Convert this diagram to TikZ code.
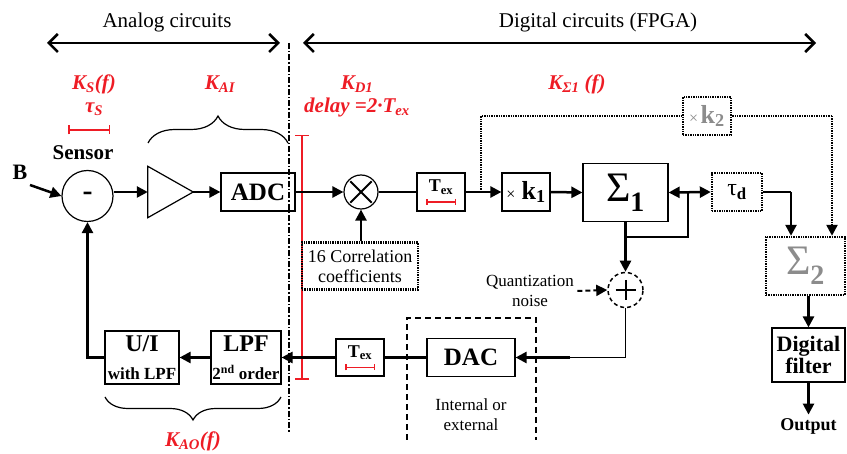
\documentclass[tikz,border=0pt]{standalone}
\usepackage{fontspec}
\setmainfont{Liberation Serif}
\usepackage{xcolor}
\usepackage{tikz}
\usetikzlibrary{positioning, arrows.meta, calc, decorations.pathreplacing}
\definecolor{ink}{HTML}{000000}
\definecolor{markred}{HTML}{EE1C25}
\definecolor{greyout}{HTML}{8C8C8C}
\tikzset{
  heading/.style={font=\fontsize{21}{24}\selectfont},
  block/.style={draw=ink, line width=1.2pt, align=center, inner sep=0pt, font=\bfseries\fontsize{25}{28}\selectfont},
  dotbox/.style={draw=ink, line width=2.4pt, dash pattern=on 1.4pt off 1pt, align=center, inner sep=0pt},
  junction/.style={draw=ink, circle, line width=1.2pt, inner sep=0pt},
  arrow/.style={-{Triangle[length=11pt, width=11pt]}, line width=2.5pt, draw=ink},
  dblarrow/.style={{Triangle[length=11pt, width=11pt]}-{Triangle[length=11pt, width=11pt]}, line width=2.5pt, draw=ink},
  wire/.style={line width=2.5pt, draw=ink},
  thinline/.style={line width=1.2pt, draw=ink},
  dotline/.style={line width=2.4pt, dash pattern=on 1.4pt off 1pt, draw=ink},
  dotarrow/.style={dotline, -{Triangle[length=11pt, width=11pt]}},
  dasharrow/.style={line width=2pt, dash pattern=on 5pt off 3pt, -{Triangle[length=11pt, width=11pt]}},
  span/.style={{Straight Barb[length=9pt, width=18pt]}-{Straight Barb[length=9pt, width=18pt]}, line width=2.5pt},
  boundary/.style={line width=1.5pt, dash pattern=on 6pt off 2pt on 1.5pt off 2pt},
  redlabel/.style={text=markred, font=\bfseries\itshape\fontsize{21}{23}\selectfont},
  redbar/.style={draw=markred, line width=1.5pt, {Bar[width=#1]}-{Bar[width=#1]}},
  brace/.style={decorate, decoration={brace, amplitude=#1}, line width=1.2pt},
  note/.style={font=\fontsize{17}{20}\selectfont, align=center},
}

\begin{document}
\begin{tikzpicture}[x=1pt, y=-1pt]
  \useasboundingbox (0,0) rectangle (847,454);
  % analog / digital split
  \node[heading] (analog) at (167,22) {Analog circuits};
  \node[heading] (digital) at (598,22) {Digital circuits (FPGA)};
  \coordinate (aleft) at (47,43);
  \coordinate (aright) at (280,43);
  \coordinate (dleft) at (303,43);
  \coordinate (dright) at (816,43);
  \draw[span] (aleft) -- (aright);
  \draw[span] (dleft) -- (dright);

  % transfer function labels
  \node[redlabel] (ks) at (94,84) {K\textsubscript{S}(f)};
  \node[redlabel] (taus) at (94,109) {τ\textsubscript{S}};
  \draw[redbar=9pt] (68,130) -- (110,130);
  \node[redlabel] (kai) at (220,84) {K\textsubscript{AI}};
  \node[redlabel] (kd) at (357,84) {K\textsubscript{D1}};
  \node[redlabel] (delay) at (357,107) {delay =2·T\textsubscript{ex}};
  \node[redlabel] (ksig) at (577,84) {K\textsubscript{Σ1} (f)};
  \node[redlabel] (kao) at (193,441) {K\textsubscript{AO}(f)};
  \draw[redbar=14pt] (302,135) -- (302,380);
  \draw[brace=27pt] (148,143) -- (288,143);
  \draw[brace=23pt] (281,397) -- (105,397);

  % forward path
  \node[font=\bfseries\fontsize{22}{24}\selectfont] (B) at (20,172) {B};
  \node[font=\bfseries\fontsize{21}{24}\selectfont] (sensorname) at (83,153) {Sensor};
  \node[junction, minimum size=51pt, font=\bfseries\fontsize{30}{30}\selectfont] (sensor) at (87.5,196) {-};
  \node[minimum width=45pt, minimum height=51pt, inner sep=0pt] (amp) at (170.5,192) {};
  \draw[thinline] (amp.north west) -- (amp.east) -- (amp.south west) -- cycle;
  \node[block, minimum width=74pt, minimum height=38pt] (adc) at (258,192) {ADC};
  \node[junction, minimum size=34pt] (mult) at (361,192) {};
  \draw[line width=2pt, shorten <=2.5pt, shorten >=2.5pt] (mult.north east) -- (mult.south west);
  \draw[line width=2pt, shorten <=2.5pt, shorten >=2.5pt] (mult.north west) -- (mult.south east);
  \node[dotbox, minimum width=116pt, minimum height=47pt, font=\fontsize{18}{20}\selectfont] (corr) at (360,266) {16 Correlation\\coefficients};
  \node[block, minimum width=48pt, minimum height=38pt] (tex1) at (441,192) {};
  \node[font=\bfseries\fontsize{18}{20}\selectfont] (tex1text) at ($(tex1.center)+(0,-5)$) {T\textsubscript{ex}};
  \draw[redbar=6pt] ($(tex1.center)+(-15,10)$) -- ($(tex1.center)+(15,10)$);
  \node[block, minimum width=48pt, minimum height=38pt] (k1) at (526,192) {{\mdseries\fontsize{16}{18}\selectfont ×} {\fontsize{26}{28}\selectfont k\textsubscript{1}}};
  \node[block, minimum width=85pt, minimum height=58pt] (sig1) at (625.5,192.5) {{\mdseries\fontsize{42}{44}\selectfont Σ}{\fontsize{40}{44}\selectfont\textsubscript{1}}};
  \node[dotbox, minimum width=50pt, minimum height=38pt, font=\fontsize{24}{26}\selectfont] (taud) at (737,192) {τ{\bfseries\textsubscript{d}}};
  \node[dotbox, minimum width=48pt, minimum height=38pt, text=greyout] (k2) at (707,116) {{\fontsize{16}{18}\selectfont ×} {\bfseries\fontsize{26}{28}\selectfont k\textsubscript{2}}};
  \node[dotbox, minimum width=79pt, minimum height=58pt, text=greyout] (sig2) at (805.5,266) {{\fontsize{42}{44}\selectfont Σ}{\bfseries\fontsize{40}{44}\selectfont\textsubscript{2}}};
  \node[block, minimum width=73pt, minimum height=54pt, font=\bfseries\fontsize{22}{22}\selectfont] (filter) at (808.5,355) {Digital\\filter};
  \node[font=\bfseries\fontsize{18}{20}\selectfont] (output) at (808.5,426) {Output};

  \coordinate (bsrc) at (30,185);
  \draw[arrow] (bsrc) -- (sensor.west);
  \draw[arrow] (sensor.east |- amp.west) -- (amp.west);
  \draw[arrow] (amp.east) -- (adc.west);
  \draw[arrow] (adc.east) -- (mult.west);
  \draw[arrow] (corr.north -| mult.south) -- (mult.south);
  \draw[wire] (mult.east) -- (tex1.west);
  \draw[arrow] (tex1.east) -- (k1.west);
  \draw[arrow] (k1.east) -- (sig1.west);
  \draw[dblarrow] (sig1.east) -- (taud.west);
  \coordinate (tdcorner) at (791,192);
  \draw[thinline] (taud.east) -- (tdcorner);
  \draw[arrow] (tdcorner) -- (tdcorner |- sig2.north);
  \draw[arrow] (filter.north |- sig2.south) -- (filter.north);
  \draw[arrow] (filter.south) -- (output.north);

  % k2 side path
  \coordinate (brk) at (481,192);
  \coordinate (k2drop) at (832,116);
  \draw[dotline] (brk) |- (k2.west);
  \draw[dotline] (k2.east) -- (k2drop);
  \draw[dotarrow] (k2drop) -- (k2drop |- sig2.north);

  % quantization and feedback
  \node[junction, dashed, line width=1.5pt, dash pattern=on 4pt off 3pt, minimum size=35pt] (plus) at (625.5,290) {};
  \draw[line width=2pt] ($(plus.center)+(-10,0)$) -- ($(plus.center)+(10,0)$);
  \draw[line width=2pt] ($(plus.center)+(0,-10)$) -- ($(plus.center)+(0,10)$);
  \node[note] (qnoise) at (530,291) {Quantization\\noise};
  \draw[dasharrow] (qnoise.east) -- (plus.west);
  \coordinate (fbk) at (688,192);
  \draw[thinline] (fbk) |- ($(sig1.south)+(0,15)$);
  \draw[arrow] (sig1.south) -- (plus.north);

  \node[block, minimum width=88pt, minimum height=38pt] (dac) at (471,357.5) {DAC};
  \node[block, minimum width=48pt, minimum height=37pt] (tex2) at (360,357.5) {};
  \node[font=\bfseries\fontsize{18}{20}\selectfont] (tex2text) at ($(tex2.center)+(0,-5)$) {T\textsubscript{ex}};
  \draw[redbar=6pt] ($(tex2.center)+(-15,10)$) -- ($(tex2.center)+(15,10)$);
  \node[block, minimum width=70pt, minimum height=53pt] (lpf) at (246,357.5) {{\fontsize{24}{22}\selectfont LPF}\\{\fontsize{17}{22}\selectfont 2\textsuperscript{nd} order}};
  \node[block, minimum width=74pt, minimum height=53pt] (ui) at (142,357.5) {{\fontsize{24}{22}\selectfont U/I}\\{\fontsize{17}{22}\selectfont with LPF}};
  \draw[dashed, line width=1.5pt, dash pattern=on 6pt off 4pt] (407,440) |- (536,318) -- (536,440);
  \node[note] (where) at (471,415) {Internal or\\external};

  \coordinate (qjoin) at (570,357.5);
  \draw[thinline] (plus.south) |- (qjoin);
  \draw[arrow] (qjoin) -- (dac.east);
  \draw[wire] (dac.west) -- (tex2.east);
  \draw[arrow] (tex2.west) -- (lpf.east);
  \draw[arrow] (lpf.west) -- (ui.east);
  \draw[arrow] (ui.west) -| (sensor.south);

  \draw[boundary] (289,43) -- (289,433);
\end{tikzpicture}
\end{document}
